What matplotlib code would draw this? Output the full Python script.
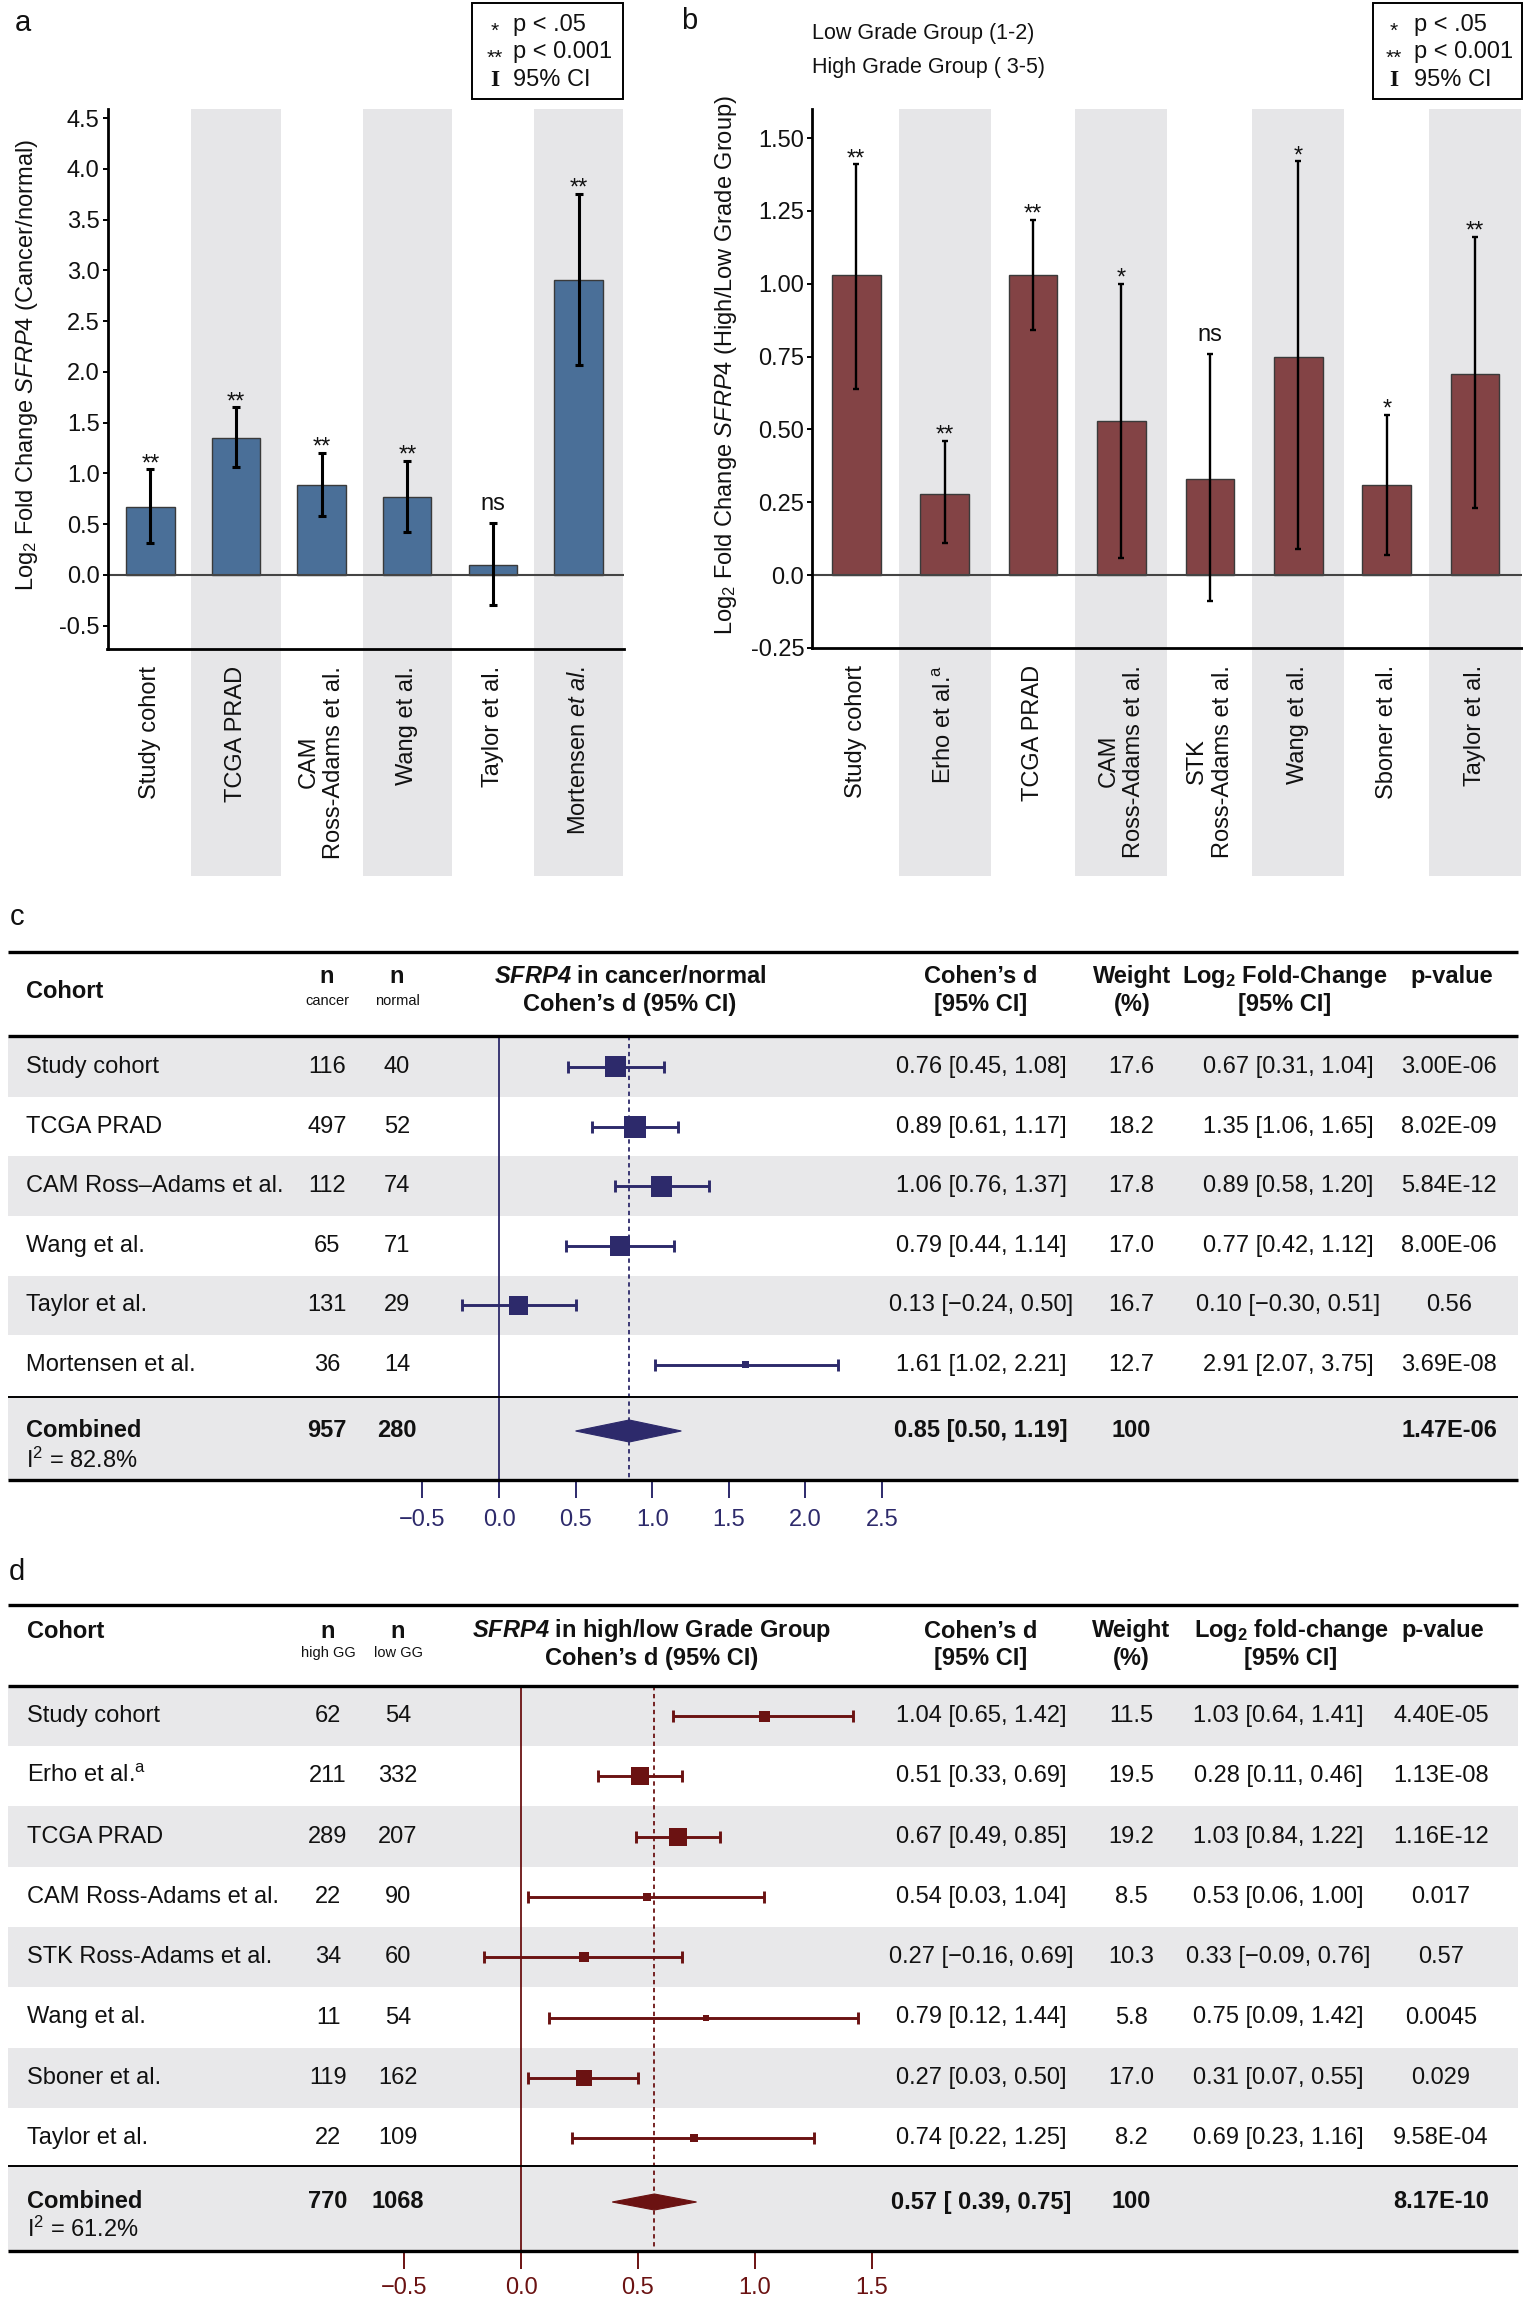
import numpy as np
import matplotlib
matplotlib.use("Agg")
import matplotlib.pyplot as plt
from matplotlib.patches import Rectangle, Polygon
import matplotlib.transforms as mtransforms

W, H = 1523, 2300
DPI = 100
PT = DPI / 72.0  # pixels per point

plt.rcParams["font.family"] = ["Liberation Sans", "DejaVu Sans"]
plt.rcParams["mathtext.fontset"] = "custom"
plt.rcParams["mathtext.rm"] = "Liberation Sans"
plt.rcParams["mathtext.it"] = "Liberation Sans:italic"
plt.rcParams["mathtext.bf"] = "Liberation Sans:bold"
try:
    plt.rcParams["mathtext.bfit"] = "Liberation Sans:italic:bold"
except KeyError:
    pass

# ---------------- data ----------------
# panel a: log2 fold change cancer/normal
a_labels = ["Study cohort", "TCGA PRAD", "CAM\nRoss-Adams et al.", "Wang et al.",
            "Taylor et al.", r"Mortensen $\mathit{et\ al.}$"]
a_fc = [0.67, 1.35, 0.89, 0.77, 0.10, 2.91]
a_lo = [0.31, 1.06, 0.58, 0.42, -0.30, 2.07]
a_hi = [1.04, 1.65, 1.20, 1.12, 0.51, 3.75]
a_sig = ["**", "**", "**", "**", "ns", "**"]

# panel b: log2 fold change high/low grade group
b_labels = ["Study cohort", r"Erho et al.$^{\mathrm{a}}$", "TCGA PRAD", "CAM\nRoss-Adams et al.",
            "STK\nRoss-Adams et al.", "Wang et al.", "Sboner et al.", "Taylor et al."]
b_fc = [1.03, 0.28, 1.03, 0.53, 0.33, 0.75, 0.31, 0.69]
b_lo = [0.64, 0.11, 0.84, 0.06, -0.09, 0.09, 0.07, 0.23]
b_hi = [1.41, 0.46, 1.22, 1.00, 0.76, 1.42, 0.55, 1.16]
b_sig = ["**", "**", "**", "*", "ns", "*", "*", "**"]

# panel c: meta-analysis cancer/normal
c_names = ["Study cohort", "TCGA PRAD", "CAM Ross\u2013Adams et al.", "Wang et al.",
           "Taylor et al.", "Mortensen et al."]
c_n1 = [116, 497, 112, 65, 131, 36]
c_n2 = [40, 52, 74, 71, 29, 14]
c_d = [0.76, 0.89, 1.06, 0.79, 0.13, 1.61]
c_dlo = [0.45, 0.61, 0.76, 0.44, -0.24, 1.02]
c_dhi = [1.08, 1.17, 1.37, 1.14, 0.50, 2.21]
c_w = [17.6, 18.2, 17.8, 17.0, 16.7, 12.7]
c_p = ["3.00E-06", "8.02E-09", "5.84E-12", "8.00E-06", "0.56", "3.69E-08"]
c_comb_n = [957, 280]
c_comb_d = [0.85, 0.50, 1.19]
c_comb_w = 100
c_comb_p = "1.47E-06"
c_i2 = 82.8
c_ticks = [-0.5, 0.0, 0.5, 1.0, 1.5, 2.0, 2.5]

# panel d: meta-analysis high/low grade group
d_names = ["Study cohort", r"Erho et al.$^{\mathrm{a}}$", "TCGA PRAD", "CAM Ross-Adams et al.",
           "STK Ross-Adams et al.", "Wang et al.", "Sboner et al.", "Taylor et al."]
d_n1 = [62, 211, 289, 22, 34, 11, 119, 22]
d_n2 = [54, 332, 207, 90, 60, 54, 162, 109]
d_d = [1.04, 0.51, 0.67, 0.54, 0.27, 0.79, 0.27, 0.74]
d_dlo = [0.65, 0.33, 0.49, 0.03, -0.16, 0.12, 0.03, 0.22]
d_dhi = [1.42, 0.69, 0.85, 1.04, 0.69, 1.44, 0.50, 1.25]
d_w = [11.5, 19.5, 19.2, 8.5, 10.3, 5.8, 17.0, 8.2]
d_p = ["4.40E-05", "1.13E-08", "1.16E-12", "0.017", "0.57", "0.0045", "0.029", "9.58E-04"]
d_comb_n = [770, 1068]
d_comb_d = [0.57, 0.39, 0.75]
d_comb_w = 100
d_comb_p = "8.17E-10"
d_i2 = 61.2
d_ticks = [-0.5, 0.0, 0.5, 1.0, 1.5]

# square sizes (px) of the forest markers
c_box = [21, 22, 21, 20, 19, 7]
d_box = [11, 18, 18, 8, 10, 6, 16, 8]

BLUE = "#4a6f98"
BROWN = "#834345"
NAVY = "#2d2a6b"
MAROON = "#6b1212"
BAND = "#e6e6e8"
ROWGRAY = "#e8e8ea"
TXT = "#111111"
FS = 17

fig = plt.figure(figsize=(W / DPI, H / DPI), dpi=DPI)


def add_ax(x0, y0, x1, y1):
    # pixel box (top-left origin) -> figure axes
    return fig.add_axes([x0 / W, 1 - y1 / H, (x1 - x0) / W, (y1 - y0) / H])


def minus(s):
    return s.replace("-", "\u2212")


def ci_txt(v, lo, hi, pad=""):
    return minus(f"{v:.2f} [{pad}{lo:.2f}, {hi:.2f}]")


def bar_panel(ax, labels, fc, lo, hi, sig, color, ylim, yticks, yticklabels, ylabel,
              band_bottom, width, err_lw, capsize, label_x):
    x = np.arange(len(labels))
    fc, lo, hi = np.array(fc), np.array(lo), np.array(hi)
    trans = mtransforms.blended_transform_factory(ax.transData, ax.transAxes)
    for i in x[1::2]:
        ax.add_patch(Rectangle((i - 0.52, band_bottom), 1.04, 1 - band_bottom, transform=trans,
                               facecolor=BAND, edgecolor="none", zorder=0, clip_on=False))
    ax.bar(x, fc, width=width, color=color, edgecolor="#3a3a3a", linewidth=1.0, zorder=2)
    ax.axhline(0, color="#444444", lw=1.5, zorder=2.2)
    ax.errorbar(x, fc, yerr=[fc - lo, hi - fc], fmt="none", ecolor="black",
                elinewidth=err_lw, capsize=capsize, capthick=err_lw, zorder=3)
    for i in x:
        if sig[i] == "ns":
            ax.annotate("ns", (i, hi[i]), xytext=(0, 9.5), textcoords="offset points",
                        ha="center", va="baseline", fontsize=FS, color=TXT)
        else:
            ax.annotate(sig[i], (i, hi[i]), xytext=(0, -0.5), textcoords="offset points",
                        ha="center", va="baseline", fontsize=FS, color=TXT)
    ax.set_xlim(-0.5, len(labels) - 0.47)
    ax.set_ylim(*ylim)
    ax.set_yticks(yticks)
    ax.set_yticklabels(yticklabels)
    ax.set_xticks(x)
    ax.set_xticklabels(labels, rotation=90, ha="center", va="top")
    for t in ax.get_xticklabels():
        t.set_multialignment("center")
    ax.tick_params(axis="x", length=0, pad=12, labelsize=FS, labelcolor=TXT)
    ax.tick_params(axis="y", length=3.6, width=1.4, pad=2, labelsize=FS, labelcolor=TXT)
    ax.spines["top"].set_visible(False)
    ax.spines["right"].set_visible(False)
    ax.spines["left"].set_linewidth(2.0)
    ax.spines["bottom"].set_linewidth(2.0)
    ax.set_ylabel(ylabel, fontsize=FS, color=TXT)
    ax.yaxis.set_label_coords(label_x, 0.525)
    ax.set_facecolor("none")


def legend_box(x0, x1, star_x, txt_x):
    fig.add_artist(Rectangle((x0 / W, 1 - 99 / H), (x1 - x0) / W, 96 / H, transform=fig.transFigure,
                             fill=False, edgecolor="black", lw=1.4))
    for y, star, txt in [(25, "*", "p < .05"), (52, "**", "p < 0.001")]:
        fig.text(star_x / W, 1 - (y + 6) / H, star, ha="center", va="center", fontsize=15, color=TXT)
        fig.text(txt_x / W, 1 - y / H, txt, ha="left", va="center", fontsize=FS, color=TXT)
    fig.text(star_x / W, 1 - 80 / H, "I", ha="center", va="center", fontsize=FS,
             family="Liberation Serif", weight="bold", color=TXT)
    fig.text(txt_x / W, 1 - 80 / H, "95% CI", ha="left", va="center", fontsize=FS, color=TXT)


# ---------------- panel a ----------------
ax_a = add_ax(107.5, 109, 624, 649)
bar_panel(ax_a, a_labels, a_fc, a_lo, a_hi, a_sig, BLUE, (-0.73, 4.59),
          np.arange(-0.5, 4.51, 0.5), [f"{v:.1f}" for v in np.arange(-0.5, 4.51, 0.5)],
          r"Log$_2$ Fold Change $\mathit{SFRP4}$ (Cancer/normal)",
          -(876 - 649) / (649 - 109), 0.565, 2.2, 2.9, -0.131)
legend_box(472, 623, 495, 513)
fig.text(23 / W, 1 - 23 / H, "a", ha="center", va="center", fontsize=21, color=TXT)

# ---------------- panel b ----------------
ax_b = add_ax(812, 109, 1522, 648)
b_ticks = [-0.25, 0.0, 0.25, 0.50, 0.75, 1.00, 1.25, 1.50]
bar_panel(ax_b, b_labels, b_fc, b_lo, b_hi, b_sig, BROWN, (-0.25, 1.60),
          b_ticks, ["-0.25", "0.0", "0.25", "0.50", "0.75", "1.00", "1.25", "1.50"],
          r"Log$_2$ Fold Change $\mathit{SFRP4}$ (High/Low Grade Group)",
          -(876 - 648) / (648 - 109), 0.55, 1.7, 2.4, -0.103)
legend_box(1373, 1522, 1394, 1414)
fig.text(689 / W, 1 - 21 / H, "b", ha="center", va="center", fontsize=21, color=TXT)
fig.text(812 / W, 1 - 34 / H, "Low Grade Group (1-2)", ha="left", va="center", fontsize=15.5, color=TXT)
fig.text(812 / W, 1 - 67 / H, "High Grade Group ( 3-5)", ha="left", va="center", fontsize=15.5, color=TXT)


# ---------------- forest tables ----------------
TL, TR = 8, 1518


def forest(lay, color, names, n1, n2, d, dlo, dhi, w, box, fc, fclo, fchi, pv,
           comb_n, comb_d, comb_w, comb_p, i2, ticks, heads):
    ax = add_ax(TL, lay["top"], TR, lay["bot"])
    zero, unit = lay["zero"], lay["unit"]

    def X(px):
        return (px - zero) / unit

    ax.set_xlim(X(TL), X(TR))
    ax.set_ylim(lay["bot"], lay["top"])
    for s in ax.spines.values():
        s.set_visible(False)
    n = len(names)
    ys = lay["row0"] + lay["dy"] * np.arange(n)
    dy = lay["dy"]
    for i in range(0, n, 2):
        ax.add_patch(Rectangle((X(TL), ys[i] - dy / 2), X(TR) - X(TL), dy,
                               facecolor=ROWGRAY, edgecolor="none", zorder=0))
    ax.add_patch(Rectangle((X(TL), lay["sep3"]), X(TR) - X(TL), lay["bot"] - lay["sep3"],
                           facecolor=ROWGRAY, edgecolor="none", zorder=0))
    for y, lw in [(lay["top"], 2.4), (lay["sep2"], 2.4), (lay["sep3"], 1.4), (lay["bot"], 2.4)]:
        ax.plot([X(TL), X(TR)], [y, y], color="black", lw=lw, clip_on=False,
                solid_capstyle="butt", zorder=6)

    # reference lines
    ax.plot([0, 0], [lay["sep2"], lay["bot"]], color=color, lw=1.3, zorder=1)
    ax.plot([comb_d[0], comb_d[0]], [lay["sep2"], lay["bot"]], color=color, lw=1.3,
            ls=(0, (2.4, 2.0)), zorder=1)

    d, dlo, dhi = np.array(d), np.array(dlo), np.array(dhi)
    ax.errorbar(d, ys, xerr=[d - dlo, dhi - d], fmt="none", ecolor=color, elinewidth=2.1,
                capsize=4.3, capthick=2.1, zorder=3)
    ax.scatter(d, ys, s=(np.array(box) / PT) ** 2, marker="s", color=color, linewidths=0, zorder=4)
    cy, dh = lay["comb_y"], lay["dh"]
    ax.add_patch(Polygon([[comb_d[1], cy], [comb_d[0], cy - dh], [comb_d[2], cy], [comb_d[0], cy + dh]],
                         closed=True, facecolor=color, edgecolor=color, lw=0.8, zorder=4))

    # header
    hc = lay["hcols"]
    kw = dict(fontsize=FS, color=TXT, weight="bold", va="center")
    ax.text(X(lay["cols"]["name"]), lay["cohort_y"], "Cohort", ha="left", **kw)
    ax.text(X(lay["cols"]["n1"]), lay["h1"], "n", ha="center", **kw)
    ax.text(X(lay["cols"]["n2"]), lay["h1"], "n", ha="center", **kw)
    ax.text(X(lay["cols"]["n1"]), lay["hs"], heads[0], ha="center", va="center", fontsize=10.5, color=TXT)
    ax.text(X(lay["cols"]["n2"]), lay["hs"], heads[1], ha="center", va="center", fontsize=10.5, color=TXT)
    ax.text(X(hc["fig"]), lay["h1"], heads[2], ha="center", **kw)
    ax.text(X(hc["fig"]), lay["h2"], "Cohen\u2019s d (95% CI)", ha="center", **kw)
    ax.text(X(hc["d"]), lay["h1"], "Cohen\u2019s d", ha="center", **kw)
    ax.text(X(hc["d"]), lay["h2"], "[95% CI]", ha="center", **kw)
    ax.text(X(hc["w"]), lay["h1"], "Weight", ha="center", **kw)
    ax.text(X(hc["w"]), lay["h2"], "(%)", ha="center", **kw)
    ax.text(X(hc["fc"]), lay["h1"], heads[3], ha="center", **kw)
    ax.text(X(hc["fc"]), lay["h2"], "[95% CI]", ha="center", **kw)
    ax.text(X(hc["p"]), lay["h1"], "p-value", ha="center", **kw)

    # rows
    col = lay["cols"]
    rk = dict(fontsize=FS, color=TXT, va="center")
    for i in range(n):
        y = ys[i]
        ax.text(X(col["name"]), y, names[i], ha="left", **rk)
        ax.text(X(col["n1"]), y, str(n1[i]), ha="center", **rk)
        ax.text(X(col["n2"]), y, str(n2[i]), ha="center", **rk)
        ax.text(X(col["d"]), y, ci_txt(d[i], dlo[i], dhi[i]), ha="center", **rk)
        ax.text(X(col["w"]), y, f"{w[i]:.1f}", ha="center", **rk)
        ax.text(X(col["fc"]), y, ci_txt(fc[i], fclo[i], fchi[i]), ha="center", **rk)
        ax.text(X(col["p"]), y, pv[i], ha="center", **rk)
    bk = dict(fontsize=FS, color=TXT, va="center", weight="bold")
    ax.text(X(col["name"]), cy, "Combined", ha="left", **bk)
    ax.text(X(col["n1"]), cy, str(comb_n[0]), ha="center", **bk)
    ax.text(X(col["n2"]), cy, str(comb_n[1]), ha="center", **bk)
    ax.text(X(col["d"]), cy, ci_txt(*comb_d, pad=lay["pad"]), ha="center", **bk)
    ax.text(X(col["w"]), cy, str(comb_w), ha="center", **bk)
    ax.text(X(col["p"]), cy, comb_p, ha="center", **bk)
    ax.text(X(col["name"]), lay["i2_y"], f"I$^2$ = {i2:.1f}%", ha="left", **rk)

    ax.set_xticks(ticks)
    ax.set_xticklabels([minus(f"{t:.1f}") for t in ticks])
    ax.tick_params(axis="x", direction="out", length=13, width=1.4, colors=color,
                   labelsize=FS, pad=lay["tickpad"])
    ax.tick_params(axis="y", left=False, labelleft=False)
    ax.set_facecolor("none")
    return ax


c_lay = dict(top=952, bot=1480, zero=499, unit=153.2, row0=1067, dy=59.6, sep2=1036, sep3=1397.5,
             comb_y=1431, i2_y=1460.5, h1=977, h2=1004.5, hs=1001, cohort_y=992, dh=11, pad="",
             tickpad=8,
             cols=dict(name=26, n1=327, n2=397, d=981, w=1131, fc=1288, p=1449),
             hcols=dict(fig=630, d=981, w=1132, fc=1285, p=1452))
forest(c_lay, NAVY, c_names, c_n1, c_n2, c_d, c_dlo, c_dhi, c_w, c_box, a_fc, a_lo, a_hi, c_p,
       c_comb_n, c_comb_d, c_comb_w, c_comb_p, c_i2, c_ticks,
       ["cancer", "normal", r"$\mathbfit{SFRP4}$ in cancer/normal", r"Log$_{\mathbf{2}}$ Fold-Change"])
fig.text(17 / W, 1 - 917 / H, "c", ha="center", va="center", fontsize=21, color=TXT)

d_lay = dict(top=1605, bot=2251, zero=521, unit=234, row0=1716, dy=60.3, sep2=1686, sep3=2166,
             comb_y=2202, i2_y=2229, h1=1631, h2=1659, hs=1653, cohort_y=1631, dh=8, pad=" ",
             tickpad=6,
             cols=dict(name=27, n1=328, n2=398, d=981, w=1131, fc=1278, p=1441),
             hcols=dict(fig=652, d=981, w=1131, fc=1291, p=1443))
forest(d_lay, MAROON, d_names, d_n1, d_n2, d_d, d_dlo, d_dhi, d_w, d_box, b_fc, b_lo, b_hi, d_p,
       d_comb_n, d_comb_d, d_comb_w, d_comb_p, d_i2, d_ticks,
       ["high GG", "low GG", r"$\mathbfit{SFRP4}$ in high/low Grade Group", r"Log$_{\mathbf{2}}$ fold-change"])
fig.text(17 / W, 1 - 1572 / H, "d", ha="center", va="center", fontsize=21, color=TXT)

fig.savefig("out.png", dpi=DPI)
